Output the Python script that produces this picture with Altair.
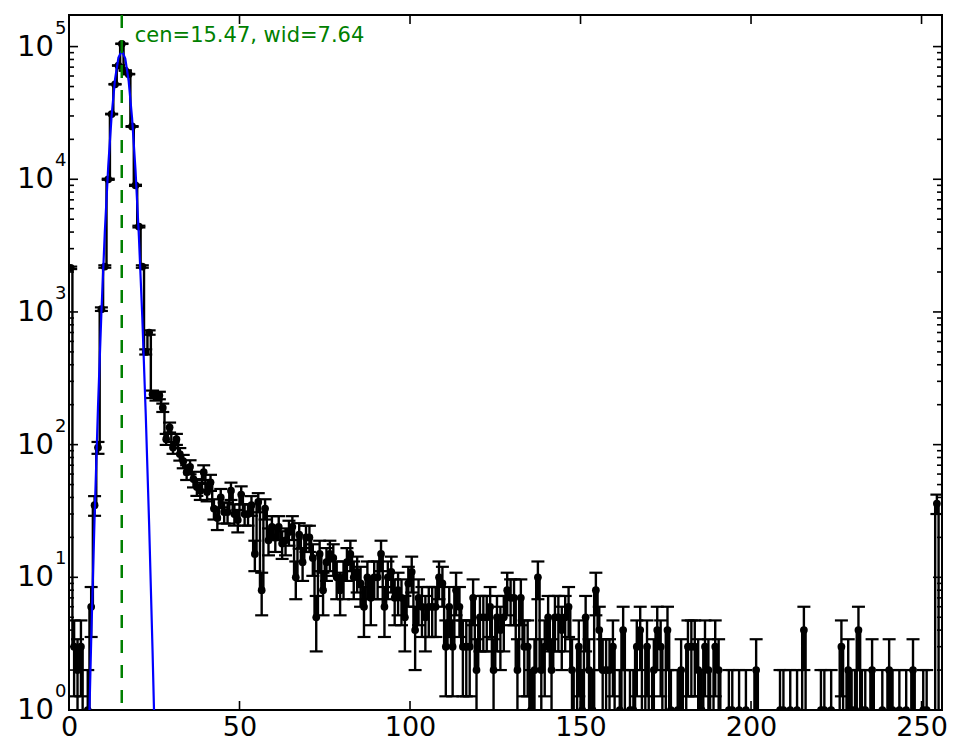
import altair as alt
import pandas as pd
import numpy as np

# ---------------- data ----------------
counts = [
    2150, 3, 2, 3, 0, 1, 6, 35, 95, 1050,
    2200, 10000, 31000, 52000, 72000, 105000, 66000, 62000, 25000, 9000,
    4400, 2200, 500, 700, 240, 230, 235, 190, 110, 135,
    95, 110, 85, 75, 62, 68, 55, 48, 45, 62,
    44, 52, 33, 28, 40, 31, 31, 45, 30, 27,
    42, 30, 30, 35, 15, 37, 8, 33, 19, 24,
    20, 24, 18, 19, 22, 24, 10, 21, 13, 20,
    20, 14, 5, 15, 8, 13, 15, 14, 10, 8,
    10, 13, 15, 10, 11, 9, 6, 10, 7, 10,
    10, 15, 6, 10, 11, 7, 8, 7, 5, 9,
    11, 4, 7, 6, 5, 6, 6, 6, 10, 9,
    3, 6, 3, 8, 6, 3, 3, 3, 7, 2,
    5, 5, 5, 6, 2, 5, 4, 5, 8, 7,
    7, 2, 7, 3, 3, 1, 2, 10, 2, 3,
    5, 2, 5, 5, 4, 5, 6, 2, 0, 3,
    1, 5, 2, 1, 8, 4, 2, 2, 2, 3,
    0, 1, 4, 0, 1, 1, 3, 4, 0, 3,
    0, 2, 4, 3, 0, 4, 1, 0, 1, 2,
    0, 3, 3, 3, 2, 1, 3, 2, 0, 3,
    2, 0, 0, 1, 1, 0, 1, 0, 1, 0,
    0, 2, 0, 0, 0, 0, 0, 0, 1, 1,
    0, 1, 0, 1, 0, 4, 0, 0, 0, 0,
    1, 1, 0, 1, 0, 0, 3, 0, 2, 1,
    1, 4, 1, 1, 0, 2, 0, 0, 1, 0,
    2, 1, 0, 1, 0, 1, 0, 2, 0, 0,
    1, 1, 0, 0, 36, 0,
]
bin_centers = [i + 0.5 for i in range(len(counts))]

# fitted gaussian curve (blue), read at the bin centres
fit_x = [5.5, 6.5, 7.5, 8.5, 9.5, 10.5, 11.5, 12.5, 13.5, 14.5, 15.5,
         16.5, 17.5, 18.5, 19.5, 20.5, 21.5, 22.5, 23.5, 24.5, 25.5]
fit_y = [0.29, 3.3, 28, 190, 987, 3980, 12460, 30190, 56700, 82480, 92990,
         81230, 54980, 28830, 11720, 3690, 900, 170, 24.9, 2.8, 0.25]

cen = 15.47
wid = 7.64
label = "cen=15.47, wid=7.64"
label_y = 120000

x_ticks = [0, 50, 100, 150, 200, 250]
y_decades = [1, 10, 100, 1000, 10000, 100000]
y_exponents = ["0", "1", "2", "3", "4", "5"]

# ---------------- layout / style ----------------
W, H = 873, 695
XMAX = 256
YMIN, YMAX = 1, 173000
FLOOR = 1e-3
FONT = "DejaVu Sans"

y_minor = [m * d for d in y_decades for m in range(2, 10) if m * d <= YMAX]

n = np.array(counts, dtype=float)
err = np.sqrt(n)
df = pd.DataFrame({
    "x": bin_centers,
    "n": counts,
    "lo": np.maximum(n - err, FLOOR),
    "hi": n + err,
    "yl": np.where(n > 0, n, FLOOR),
})
pts = df[df["n"] > 0]
fit_df = pd.DataFrame({"x": fit_x, "y": fit_y})

xs = alt.Scale(domain=[0, XMAX], nice=False, zero=False)
ys = alt.Scale(type="log", domain=[YMIN, YMAX], nice=False)
xaxis = alt.Axis(values=x_ticks, labelFontSize=27, labelFont=FONT,
                 labelColor="black", ticks=False, tickSize=0, domain=False,
                 grid=False, labelPadding=4, labelFlush=False, title=None,
                 format="d")


def X(f="x"):
    return alt.X(f"{f}:Q", scale=xs, axis=xaxis)


def Y(f):
    return alt.Y(f"{f}:Q", scale=ys, axis=None)


LW = 2.4
errbars = alt.Chart(pts).mark_rule(color="black", strokeWidth=LW, clip=True).encode(
    x=X(), y=Y("lo"), y2=alt.Y2("hi:Q"))
cap_hi = alt.Chart(pts).mark_tick(orient="horizontal", size=13, thickness=2.2,
                                  color="black", clip=True, opacity=1).encode(
    x=X(), y=Y("hi"))
cap_lo = alt.Chart(pts).mark_tick(orient="horizontal", size=13, thickness=2.2,
                                  color="black", clip=True, opacity=1).encode(
    x=X(), y=Y("lo"))
steps = alt.Chart(df).mark_line(interpolate="step", color="black",
                                strokeWidth=LW, clip=True).encode(
    x=X(), y=Y("yl"))
dots = alt.Chart(pts).mark_circle(size=60, color="black", opacity=1,
                                  clip=True).encode(x=X(), y=Y("n"))
fit = alt.Chart(fit_df).mark_line(color="#0000ff", strokeWidth=2.2,
                                  clip=True).encode(x=X(), y=Y("y"))
cen_line = alt.Chart(pd.DataFrame({"x": [cen]})).mark_rule(
    color="#008000", strokeWidth=2.5, strokeDash=[13, 12]).encode(x=X())
ann = alt.Chart(pd.DataFrame({"x": [cen + wid / 2], "y": [label_y],
                              "t": [label]})).mark_text(
    color="#008000", fontSize=21, font=FONT, align="left",
    baseline="middle").encode(x=X(), y=Y("y"), text="t:N")

major_df = pd.DataFrame({"y": y_decades, "e": y_exponents})
minor_df = pd.DataFrame({"y": y_minor})
xt_df = pd.DataFrame({"x": x_ticks})

tick_style = dict(color="black", strokeWidth=1.6)
ticks = [
    alt.Chart(major_df).mark_rule(**tick_style).encode(
        y=Y("y"), x=alt.value(0), x2=alt.value(9)),
    alt.Chart(major_df).mark_rule(**tick_style).encode(
        y=Y("y"), x=alt.value(W), x2=alt.value(W - 9)),
    alt.Chart(minor_df).mark_rule(**tick_style).encode(
        y=Y("y"), x=alt.value(0), x2=alt.value(5)),
    alt.Chart(minor_df).mark_rule(**tick_style).encode(
        y=Y("y"), x=alt.value(W), x2=alt.value(W - 5)),
    alt.Chart(xt_df).mark_rule(**tick_style).encode(
        x=X(), y=alt.value(H), y2=alt.value(H - 9)),
    alt.Chart(xt_df).mark_rule(**tick_style).encode(
        x=X(), y=alt.value(0), y2=alt.value(9)),
]

ylab_base = alt.Chart(major_df).mark_text(
    text="10", fontSize=29, font=FONT, align="right", baseline="middle",
    color="black").encode(y=Y("y"), x=alt.value(-15))
ylab_exp = alt.Chart(major_df).mark_text(
    fontSize=18, font=FONT, align="left", baseline="middle", dy=-18,
    color="black").encode(y=Y("y"), x=alt.value(-14), text="e:N")

chart = alt.layer(
    errbars, cap_hi, cap_lo, steps, dots, fit, cen_line, ann,
    *ticks, ylab_base, ylab_exp,
).properties(
    width=W, height=H,
    autosize=alt.AutoSizeParams(type="none"),
    padding={"left": 61, "top": 7, "right": 12, "bottom": 30},
    background="white",
).configure(font=FONT).configure_view(stroke="black", strokeWidth=2)

chart.save("out.html", embed_options={"renderer": "svg", "actions": False})
